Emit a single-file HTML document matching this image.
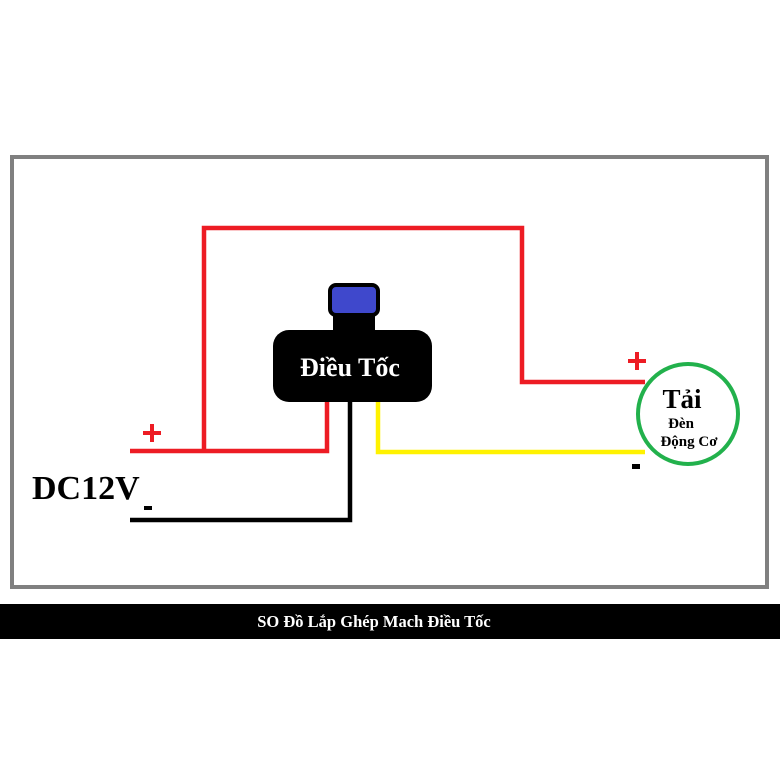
<!DOCTYPE html>
<html><head><meta charset="utf-8"><style>
html,body{margin:0;padding:0;background:#fff;}
svg{display:block;}
text{font-family:"Liberation Serif","DejaVu Serif",serif;font-weight:bold;}
</style></head><body>
<svg width="780" height="780" viewBox="0 0 780 780" xmlns="http://www.w3.org/2000/svg">
<rect x="0" y="0" width="780" height="780" fill="#fff"/>
<rect x="12" y="157" width="755" height="430" fill="none" stroke="#808080" stroke-width="4"/>
<rect x="0" y="604" width="780" height="35" fill="#000"/>
<text x="374" y="627" font-size="16.5" fill="#fff" text-anchor="middle">SO Đồ Lắp Ghép Mach Điều Tốc</text>
<g fill="none" stroke-linejoin="miter" stroke-width="4.5">
<polyline points="204,450 204,228 522,228 522,382 645,382" stroke="#ed1c24"/>
<polyline points="130,451 327,451 327,400" stroke="#ed1c24"/>
<polyline points="130,520 350,520 350,400" stroke="#000"/>
<polyline points="378,400 378,452 645,452" stroke="#fff200"/>
</g>
<rect x="333" y="305" width="42" height="30" fill="#000"/>
<rect x="330" y="285" width="48" height="30" rx="6" fill="#3f48cc" stroke="#000" stroke-width="4"/>
<rect x="273" y="330" width="159" height="72" rx="16" fill="#000"/>
<text x="350" y="376" font-size="26" fill="#fff" text-anchor="middle">Điều Tốc</text>
<circle cx="688" cy="414" r="50" fill="#fff" stroke="#22b14c" stroke-width="4"/>
<text x="682" y="408" font-size="27" fill="#000" text-anchor="middle">Tải</text>
<text x="681" y="428" font-size="15" fill="#000" text-anchor="middle">Đèn</text>
<text x="689" y="446" font-size="15" fill="#000" text-anchor="middle">Động Cơ</text>
<!-- signs -->
<rect x="635" y="352" width="4" height="18" fill="#ed1c24"/>
<rect x="628" y="359" width="18" height="4" fill="#ed1c24"/>
<rect x="632" y="464" width="8" height="5" fill="#000"/>
<rect x="150" y="424" width="4" height="18" fill="#ed1c24"/>
<rect x="143" y="431" width="18" height="4" fill="#ed1c24"/>
<text x="32" y="499" font-size="34" fill="#000">DC12V</text>
<rect x="144" y="506" width="8" height="4" fill="#000"/>
</svg>
</body></html>
